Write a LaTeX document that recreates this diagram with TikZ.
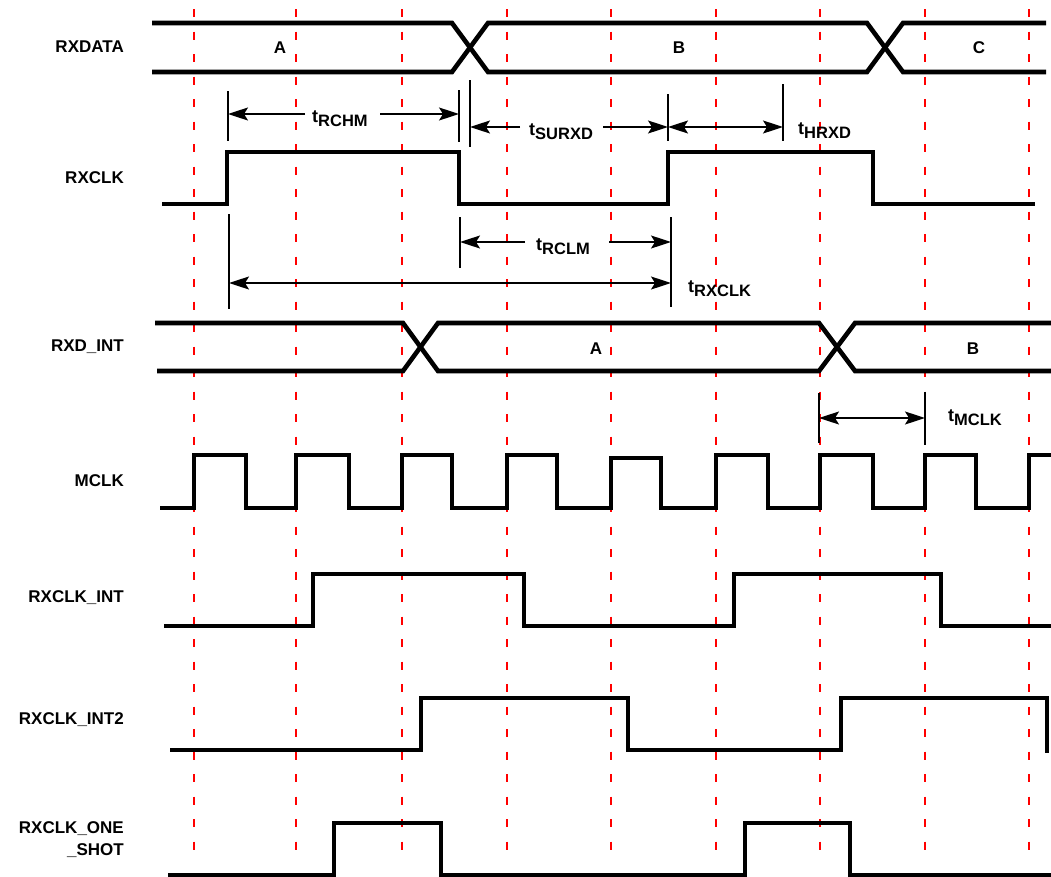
\documentclass[tikz,border=0pt]{standalone}
\usepackage{fontspec}
\setmainfont{Liberation Sans}
\usetikzlibrary{arrows.meta,calc}
\newcommand\tsub[1]{{\fontsize{18bp}{18bp}\selectfont t}\raisebox{-4bp}{\fontsize{16.5bp}{16.5bp}\selectfont #1}}
\begin{document}
\begin{tikzpicture}[x=1bp,y=-1bp,
  sig/.style={line width=4.6bp, line join=miter, line cap=butt},
  gridline/.style={red, line width=1.4bp, dash pattern=on 8bp off 14.5bp},
  ticky/.style={line width=1.4bp},
  dimr/.style={line width=1.4bp, -{Stealth[length=20bp,width=13bp,inset=4bp]}},
  dimb/.style={line width=1.4bp, {Stealth[length=20bp,width=13bp,inset=4bp]}-{Stealth[length=20bp,width=13bp,inset=4bp]}},
  lab/.style={font=\bfseries\fontsize{17bp}{22bp}\selectfont, anchor=east, inner sep=0pt, align=right},
  buslab/.style={font=\bfseries\fontsize{17bp}{17bp}\selectfont, inner sep=0pt},
  tl/.style={font=\bfseries, anchor=base west, inner sep=0pt}
]
\useasboundingbox (0,0) rectangle (1051,877);

% red dashed reference lines
\foreach \x in {194,296,402,507,611,716,820,925,1029}
  \draw[gridline] (\x,9) -- (\x,850);

% signal labels
\node[lab] (lRXDATA) at (124,47) {RXDATA};
\node[lab] (lRXCLK) at (124,178) {RXCLK};
\node[lab] (lRXDINT) at (124,347) {RXD\_INT};
\node[lab] (lMCLK) at (124,481) {MCLK};
\node[lab] (lRXCLKINT) at (124,598) {RXCLK\_INT};
\node[lab] (lRXCLKINT2) at (124,720) {RXCLK\_INT2};
\node[lab] (lONESHOT) at (124,840) {RXCLK\_ONE\\\_SHOT};

% RXDATA bus
\draw[sig] (152,23) -- (452,23) -- (488,72) -- (867,72) -- (903,23) -- (1046,23);
\draw[sig] (152,72) -- (452,72) -- (488,23) -- (867,23) -- (903,72) -- (1046,72);
\node[buslab] (dA) at (280,48) {A};
\node[buslab] (dB) at (679,48) {B};
\node[buslab] (dC) at (979,48) {C};

% RXCLK
\draw[sig] (162,204) -- (227,204) -- (227,152) -- (459,152) -- (459,204) -- (668,204) -- (668,152) -- (873,152) -- (873,204) -- (1035,204);

% RXD_INT bus
\draw[sig] (155,323) -- (403,323) -- (438,371) -- (819,371) -- (855,323) -- (1051,323);
\draw[sig] (157,371) -- (403,371) -- (438,323) -- (819,323) -- (855,371) -- (1051,371);
\node[buslab] (iA) at (596,349) {A};
\node[buslab] (iB) at (973,349) {B};

% MCLK
\draw[sig] (160,508) -- (194,508) -- (194,455) -- (246,455) -- (246,508)
  -- (296,508) -- (296,455) -- (349,455) -- (349,508)
  -- (402,508) -- (402,455) -- (452,455) -- (452,508)
  -- (507,508) -- (507,455) -- (557,455) -- (557,508)
  -- (611,508) -- (611,458) -- (661,458) -- (661,508)
  -- (716,508) -- (716,455) -- (768,455) -- (768,508)
  -- (820,508) -- (820,455) -- (873,455) -- (873,508)
  -- (925,508) -- (925,455) -- (976,455) -- (976,508)
  -- (1029,508) -- (1029,455) -- (1051,455);

% RXCLK_INT
\draw[sig] (164,626) -- (313,626) -- (313,574) -- (524,574) -- (524,626) -- (734,626) -- (734,574) -- (941,574) -- (941,626) -- (1051,626);

% RXCLK_INT2
\draw[sig] (170,750) -- (421,750) -- (421,698) -- (628,698) -- (628,750) -- (841,750) -- (841,698) -- (1047,698) -- (1047,753);

% RXCLK_ONE_SHOT
\draw[sig] (168,875) -- (334,875) -- (334,823) -- (441,823) -- (441,875) -- (745,875) -- (745,823) -- (850,823) -- (850,875) -- (1051,875);

% ---- timing annotations ----
% ticks
\draw[ticky] (228,91) -- (228,141);
\draw[ticky] (459,90) -- (459,142);
\draw[ticky] (470,80) -- (470,147);
\draw[ticky] (668,94) -- (668,141);
\draw[ticky] (783,84) -- (783,141);
\draw[ticky] (460,217) -- (460,268);
\draw[ticky] (671,217) -- (671,307);
\draw[ticky] (229,214) -- (229,309);
\draw[ticky] (819,393) -- (819,443);
\draw[ticky] (925,392) -- (925,445);

% tRCHM
\coordinate (rchmL) at (228,114);
\coordinate (rchmR) at (459,114);
\coordinate (rchmG1) at (305,114);
\coordinate (rchmG2) at (380,114);
\node[tl] (tRCHM) at (312,122) {\tsub{RCHM}};
\draw[dimr] (rchmG1) -- (rchmL);
\draw[dimr] (rchmG2) -- (rchmR);

% tSURXD
\coordinate (surL) at (470,127);
\coordinate (surR) at (668,127);
\coordinate (surG1) at (520,127);
\coordinate (surG2) at (603,127);
\node[tl] (tSURXD) at (529,135) {\tsub{SURXD}};
\draw[dimr] (surG1) -- (surL);
\draw[dimr] (surG2) -- (surR);

% tHRXD
\coordinate (hL) at (668,127);
\coordinate (hR) at (783,127);
\draw[dimb] (hL) -- (hR);
\node[tl] (tHRXD) at (798,134) {\tsub{HRXD}};

% tRCLM
\coordinate (rclmL) at (460,242);
\coordinate (rclmR) at (671,242);
\coordinate (rclmG1) at (525,242);
\coordinate (rclmG2) at (609,242);
\node[tl] (tRCLM) at (536,250) {\tsub{RCLM}};
\draw[dimr] (rclmG1) -- (rclmL);
\draw[dimr] (rclmG2) -- (rclmR);

% tRXCLK
\coordinate (rxL) at (229,283);
\coordinate (rxR) at (671,283);
\draw[dimb] (rxL) -- (rxR);
\node[tl] (tRXCLK) at (688,292) {\tsub{RXCLK}};

% tMCLK
\coordinate (mL) at (819,418);
\coordinate (mR) at (925,418);
\draw[dimb] (mL) -- (mR);
\node[tl] (tMCLK) at (948,421) {\tsub{MCLK}};
\end{tikzpicture}
\end{document}
